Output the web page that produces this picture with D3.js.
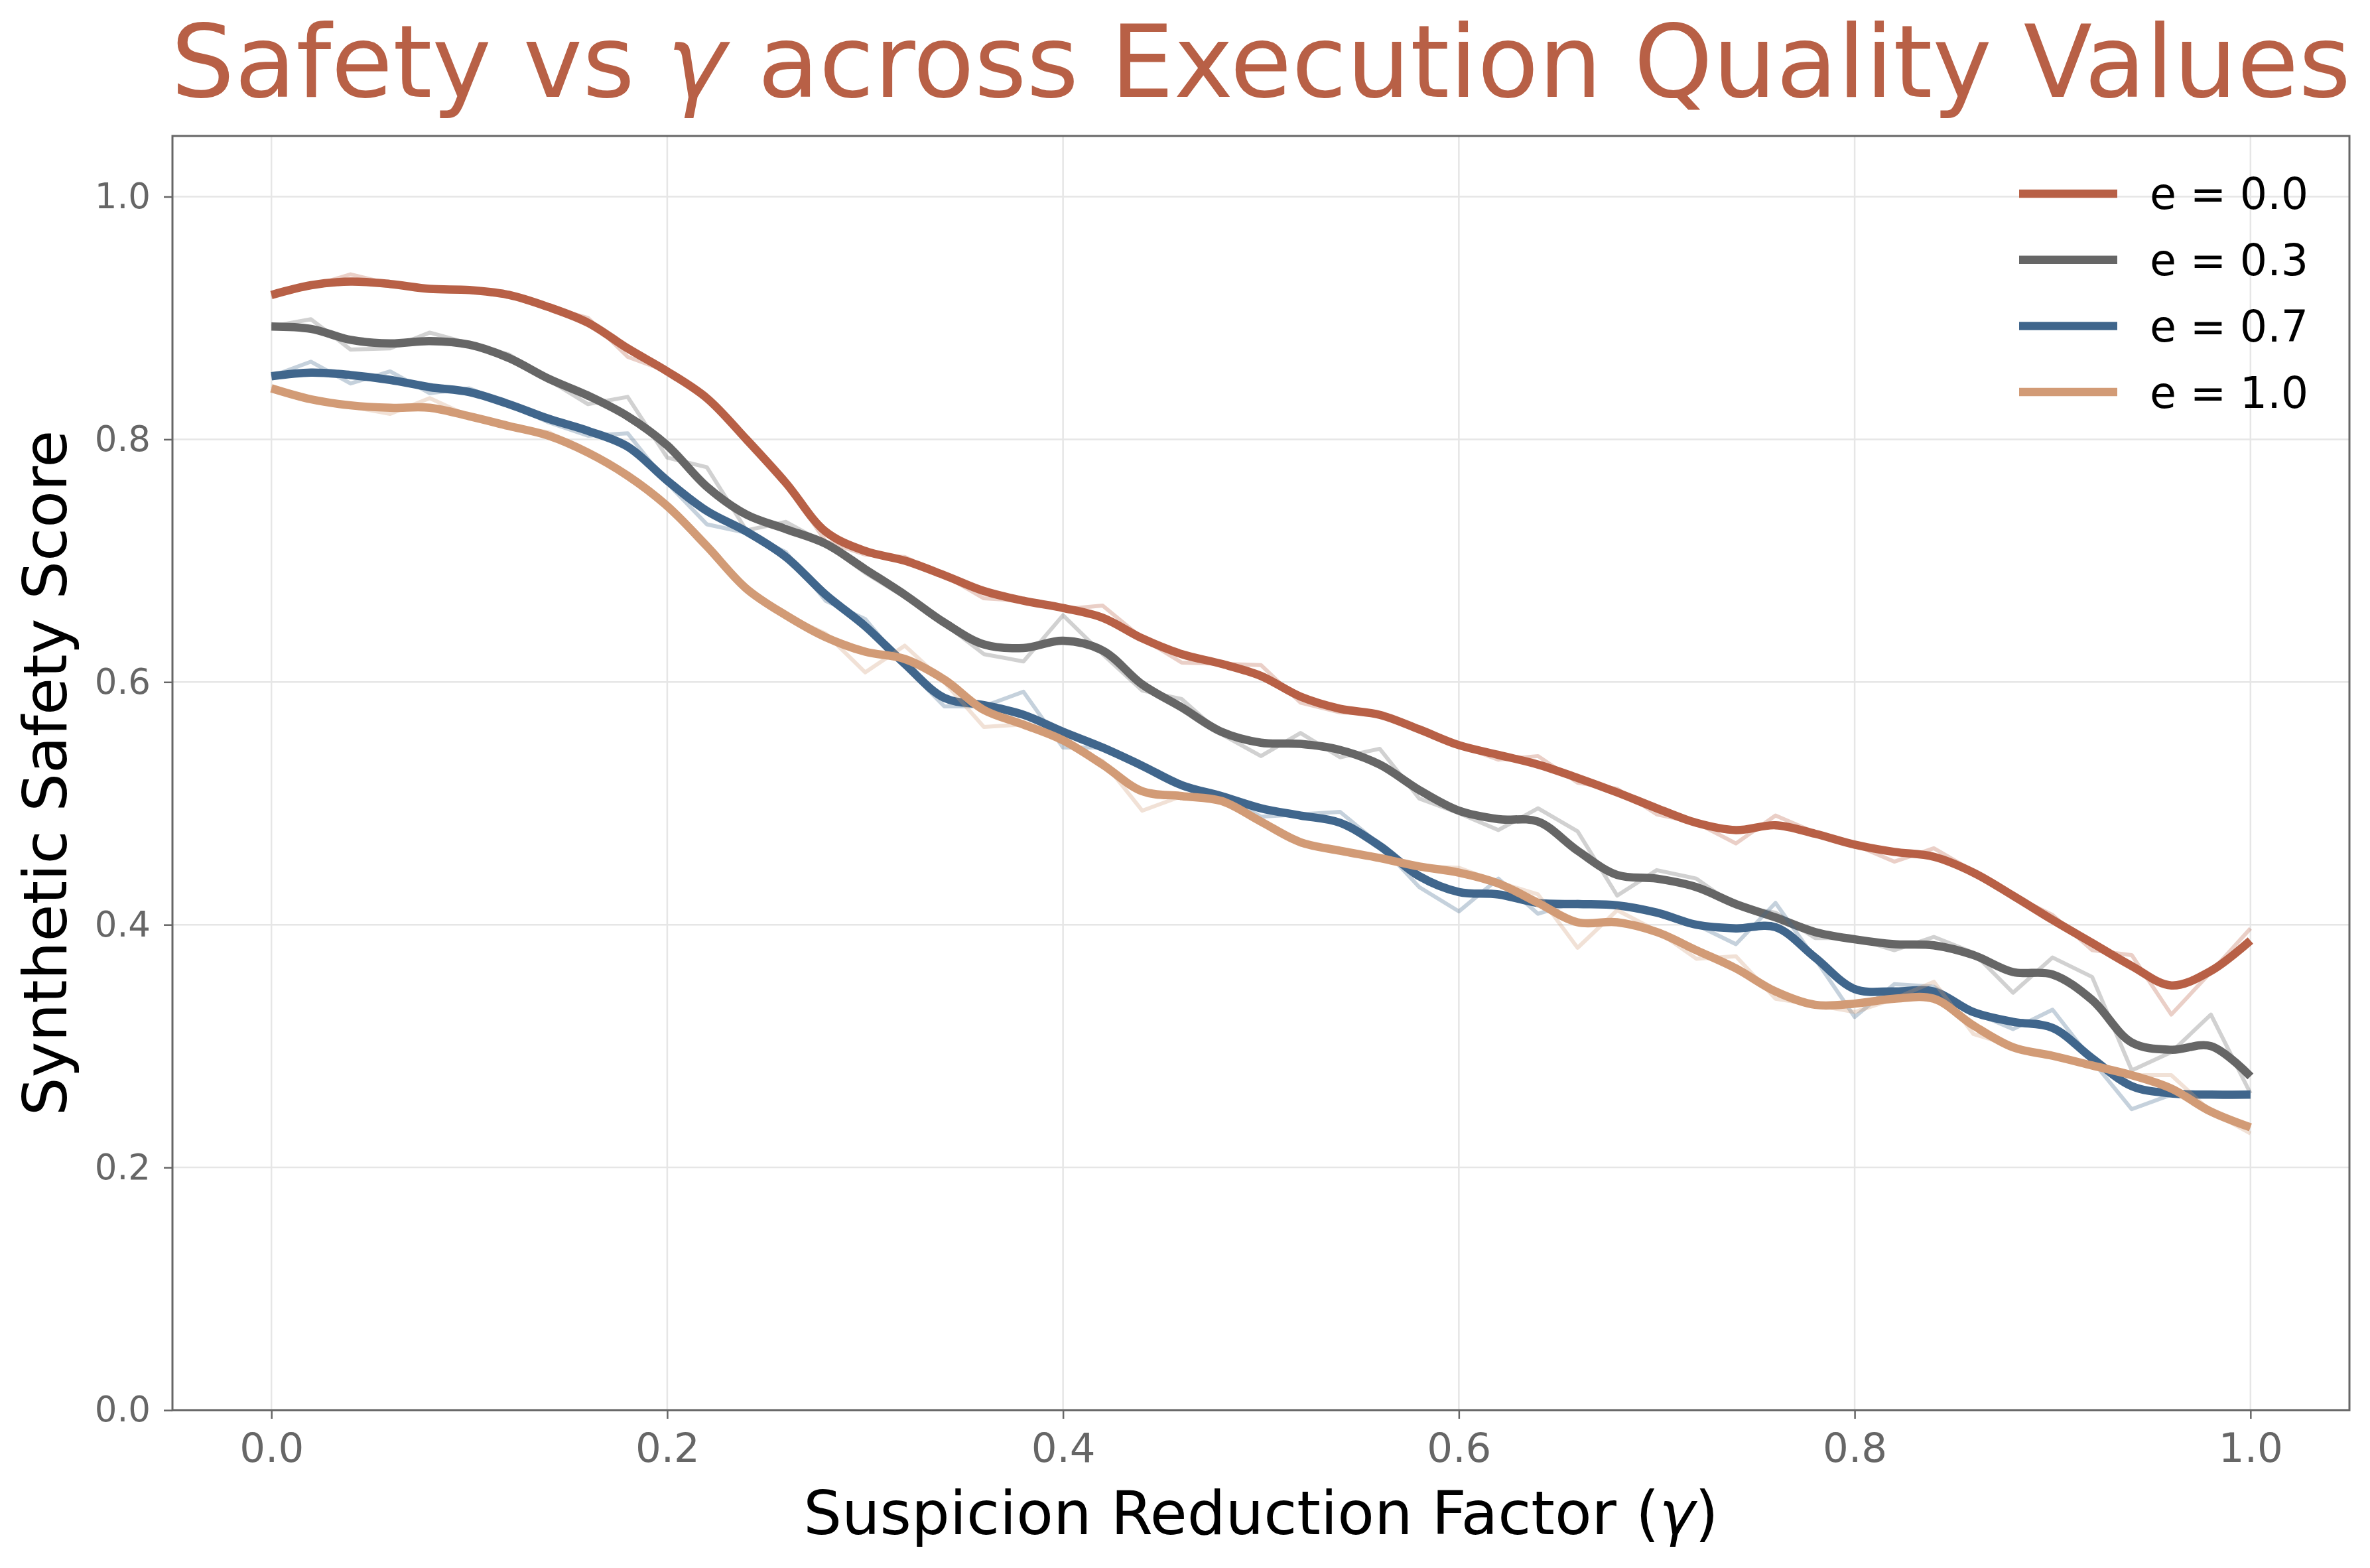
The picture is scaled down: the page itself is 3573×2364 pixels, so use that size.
<!DOCTYPE html>
<html lang="en">
<head>
<meta charset="UTF-8">
<title>Safety vs γ across Execution Quality Values</title>
<style>
  body { margin: 0; background: #fff; }
  svg { display: block; }
  text { font-family: "DejaVu Sans", sans-serif; }
  .grid line { stroke: #e6e6e6; stroke-width: 2.5px; }
  .axis .tick text { fill: #666; font-family: "DejaVu Sans", sans-serif; }
  .axis.x .tick text { font-size: 61px; }
  .axis.y .tick text { font-size: 53px; }
  .axis .tick line { stroke: #666; stroke-width: 2.5px; }
  .axis .domain { display: none; }
</style>
<script src="https://cdn.jsdelivr.net/npm/d3@7"></script>
</head>
<body>
<svg width="3573" height="2364"></svg>
<script>
// gamma grid, 0 to 1 in steps of 0.02
const gamma = d3.range(51).map(i => +(i * 0.02).toFixed(2));
const xTicks = [0, 0.2, 0.4, 0.6, 0.8, 1.0];
const yTicks = [0, 0.2, 0.4, 0.6, 0.8, 1.0];

const labels = ["e = 0.0", "e = 0.3", "e = 0.7", "e = 1.0"];
const colors = ["#b86046", "#666666", "#40668c", "#d29b76"];

// raw (noisy) scores
const raw00 = [0.917, 0.926, 0.936, 0.928, 0.924, 0.922, 0.921, 0.909, 0.900, 0.868,
  0.856, 0.836, 0.800, 0.764, 0.716, 0.705, 0.703, 0.688, 0.669, 0.667,
  0.660, 0.663, 0.636, 0.616, 0.615, 0.614, 0.583, 0.575, 0.574, 0.561,
  0.548, 0.536, 0.539, 0.517, 0.512, 0.491, 0.484, 0.467, 0.490, 0.476,
  0.466, 0.452, 0.463, 0.444, 0.424, 0.408, 0.379, 0.375, 0.326, 0.361,
  0.397];
const raw03 = [0.893, 0.899, 0.874, 0.875, 0.888, 0.879, 0.870, 0.849, 0.829, 0.835,
  0.785, 0.777, 0.725, 0.732, 0.714, 0.690, 0.670, 0.648, 0.623, 0.617,
  0.655, 0.623, 0.593, 0.586, 0.557, 0.539, 0.558, 0.538, 0.545, 0.504,
  0.492, 0.478, 0.496, 0.477, 0.424, 0.445, 0.438, 0.415, 0.410, 0.389,
  0.389, 0.379, 0.390, 0.377, 0.344, 0.373, 0.357, 0.280, 0.295, 0.326,
  0.261];
const raw07 = [0.852, 0.864, 0.846, 0.856, 0.838, 0.842, 0.829, 0.814, 0.803, 0.805,
  0.764, 0.730, 0.723, 0.707, 0.667, 0.652, 0.613, 0.580, 0.580, 0.592,
  0.546, 0.546, 0.530, 0.514, 0.508, 0.489, 0.491, 0.493, 0.466, 0.431,
  0.411, 0.438, 0.409, 0.419, 0.416, 0.410, 0.400, 0.384, 0.418, 0.372,
  0.324, 0.351, 0.349, 0.328, 0.314, 0.330, 0.288, 0.248, 0.260, 0.260,
  0.260];
const raw10 = [0.844, 0.833, 0.827, 0.821, 0.834, 0.819, 0.810, 0.806, 0.789, 0.772,
  0.745, 0.712, 0.677, 0.655, 0.640, 0.608, 0.630, 0.600, 0.563, 0.565,
  0.550, 0.535, 0.494, 0.506, 0.503, 0.486, 0.466, 0.461, 0.455, 0.448,
  0.447, 0.435, 0.425, 0.381, 0.412, 0.395, 0.372, 0.374, 0.339, 0.334,
  0.328, 0.339, 0.353, 0.310, 0.300, 0.292, 0.284, 0.276, 0.276, 0.246,
  0.228];

// smoothed scores
const smooth00 = [0.919, 0.927, 0.930, 0.928, 0.924, 0.923, 0.919, 0.909, 0.896, 0.875,
  0.856, 0.834, 0.800, 0.764, 0.724, 0.708, 0.700, 0.688, 0.675, 0.667,
  0.661, 0.653, 0.636, 0.623, 0.615, 0.605, 0.588, 0.578, 0.573, 0.561,
  0.548, 0.540, 0.532, 0.521, 0.509, 0.496, 0.484, 0.478, 0.482, 0.475,
  0.466, 0.460, 0.456, 0.443, 0.424, 0.404, 0.385, 0.366, 0.350, 0.362,
  0.387];
const smooth03 = [0.893, 0.891, 0.882, 0.879, 0.881, 0.878, 0.867, 0.850, 0.836, 0.819,
  0.795, 0.761, 0.738, 0.726, 0.714, 0.693, 0.672, 0.649, 0.631, 0.628,
  0.634, 0.626, 0.598, 0.579, 0.559, 0.550, 0.549, 0.544, 0.532, 0.511,
  0.494, 0.487, 0.485, 0.461, 0.441, 0.438, 0.431, 0.417, 0.406, 0.394,
  0.388, 0.384, 0.383, 0.375, 0.361, 0.359, 0.338, 0.303, 0.297, 0.300,
  0.275];
const smooth07 = [0.852, 0.855, 0.853, 0.849, 0.843, 0.839, 0.829, 0.817, 0.807, 0.794,
  0.766, 0.741, 0.724, 0.703, 0.672, 0.646, 0.615, 0.587, 0.581, 0.573,
  0.559, 0.546, 0.531, 0.515, 0.506, 0.496, 0.490, 0.484, 0.465, 0.440,
  0.427, 0.425, 0.418, 0.417, 0.416, 0.410, 0.400, 0.397, 0.398, 0.373,
  0.347, 0.345, 0.345, 0.328, 0.320, 0.315, 0.290, 0.267, 0.261, 0.260,
  0.260];
const smooth10 = [0.842, 0.833, 0.828, 0.826, 0.826, 0.819, 0.811, 0.803, 0.789, 0.770,
  0.745, 0.712, 0.677, 0.655, 0.637, 0.625, 0.619, 0.602, 0.577, 0.565,
  0.552, 0.532, 0.510, 0.506, 0.502, 0.485, 0.468, 0.461, 0.455, 0.448,
  0.443, 0.434, 0.418, 0.402, 0.402, 0.394, 0.379, 0.364, 0.345, 0.334,
  0.335, 0.339, 0.339, 0.317, 0.299, 0.292, 0.284, 0.276, 0.265, 0.246,
  0.233];

const rawAll = [raw00, raw03, raw07, raw10];
const smoothAll = [smooth00, smooth03, smooth07, smooth10];
const series = labels.map((label, i) => ({label, color: colors[i], raw: rawAll[i], smooth: smoothAll[i]}));

const plot = {left: 260, right: 3542, top: 205, bottom: 2126};
const svg = d3.select("svg");

const x = d3.scaleLinear().domain([-0.05, 1.05]).range([plot.left, plot.right]);
const y = d3.scaleLinear().domain([0, 1.05]).range([plot.bottom, plot.top]);

// gridlines
const grid = svg.append("g").attr("class", "grid");
grid.selectAll(".gx").data(xTicks).enter().append("line")
    .attr("x1", d => x(d)).attr("x2", d => x(d))
    .attr("y1", plot.top).attr("y2", plot.bottom);
grid.selectAll(".gy").data(yTicks).enter().append("line")
    .attr("x1", plot.left).attr("x2", plot.right)
    .attr("y1", d => y(d)).attr("y2", d => y(d));

// lines: raw faint, then smoothed
const rawLine = d3.line().x((d, i) => x(gamma[i])).y(d => y(d));
const smoothLine = d3.line().x((d, i) => x(gamma[i])).y(d => y(d)).curve(d3.curveCatmullRom.alpha(0.5));

const lines = svg.append("g");
series.forEach(s => {
    lines.append("path")
        .attr("d", rawLine(s.raw))
        .attr("fill", "none")
        .attr("stroke", s.color)
        .attr("stroke-opacity", 0.3)
        .attr("stroke-width", 6)
        .attr("stroke-linejoin", "round");
    lines.append("path")
        .attr("d", smoothLine(s.smooth))
        .attr("fill", "none")
        .attr("stroke", s.color)
        .attr("stroke-width", 12.5)
        .attr("stroke-linejoin", "round");
});

// axes
svg.append("g").attr("class", "axis x")
    .attr("transform", `translate(0,${plot.bottom})`)
    .call(d3.axisBottom(x).tickValues(xTicks).tickFormat(d3.format(".1f")).tickSize(13).tickPadding(22));
svg.append("g").attr("class", "axis y")
    .attr("transform", `translate(${plot.left},0)`)
    .call(d3.axisLeft(y).tickValues(yTicks).tickFormat(d3.format(".1f")).tickSize(13).tickPadding(20));

// spines
svg.append("rect")
    .attr("x", plot.left).attr("y", plot.top)
    .attr("width", plot.right - plot.left).attr("height", plot.bottom - plot.top)
    .attr("fill", "none").attr("stroke", "#666").attr("stroke-width", 3);

// legend
const legend = svg.append("g");
series.forEach((s, i) => {
    const ly = 292 + i * 99.7;
    legend.append("line")
        .attr("x1", 3044).attr("x2", 3192)
        .attr("y1", ly).attr("y2", ly)
        .attr("stroke", s.color).attr("stroke-width", 12.5);
    legend.append("text")
        .attr("x", 3241).attr("y", ly)
        .attr("dy", "0.36em")
        .attr("font-size", 65)
        .attr("fill", "#000")
        .text(s.label);
});

// title
const title = svg.append("text")
    .attr("x", (plot.left + plot.right) / 2).attr("y", 146)
    .attr("text-anchor", "middle")
    .attr("font-size", 151)
    .attr("fill", "#b86046");
title.append("tspan").text("Safety vs ");
title.append("tspan").attr("font-style", "italic").text("γ");
title.append("tspan").text(" across Execution Quality Values");

// axis labels
const xl = svg.append("text")
    .attr("x", (plot.left + plot.right) / 2).attr("y", 2313)
    .attr("text-anchor", "middle")
    .attr("font-size", 91)
    .attr("fill", "#000");
xl.append("tspan").text("Suspicion Reduction Factor (");
xl.append("tspan").attr("font-style", "italic").text("γ");
xl.append("tspan").text(")");

svg.append("text")
    .attr("transform", `translate(100,${(plot.top + plot.bottom) / 2}) rotate(-90)`)
    .attr("text-anchor", "middle")
    .attr("font-size", 91)
    .attr("fill", "#000")
    .text("Synthetic Safety Score");
</script>
</body>
</html>
